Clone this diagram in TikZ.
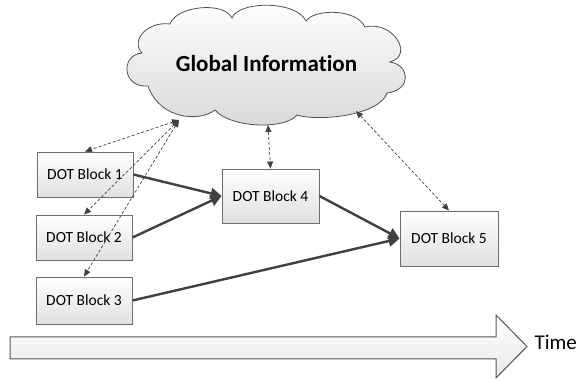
\documentclass[tikz,border=0pt]{standalone}
\usepackage{fontspec}
\setmainfont{Carlito}[RawFeature={-liga;-dlig;-clig}]
\usetikzlibrary{arrows.meta}
\definecolor{boxline}{HTML}{6E6E6E}
\definecolor{boxbot}{HTML}{E0E0E0}
\definecolor{darkline}{HTML}{404040}
\definecolor{cloudline}{HTML}{505050}
\definecolor{cloudbot}{HTML}{D8D8D8}
\definecolor{timebot}{HTML}{E8E8E8}
\definecolor{timeline}{HTML}{555555}
\tikzset{
 blockbox/.style={draw=boxline, line width=0.9pt, top color=white, bottom color=boxbot, inner sep=0pt, font=\fontsize{15.5}{18}\selectfont},
 flowarrow/.style={draw=darkline, line width=2.4pt, -{Triangle[length=11pt,width=11pt]}},
 infolink/.style={draw=darkline, line width=0.7pt, dash pattern=on 3pt off 2pt, {Triangle[length=7pt,width=6pt]}-{Triangle[length=7pt,width=6pt]}},
}
\begin{document}
\begin{tikzpicture}[x=1pt,y=-1pt]
\useasboundingbox (0,0) rectangle (579,379);
% cloud
\path[draw=cloudline, line width=0.8pt, top color=white, bottom color=cloudbot]
 (142,53) .. controls (130,40) and (148,21) .. (170,24)
 .. controls (176,6) and (224,1) .. (232,18)
 .. controls (238,1) and (296,0) .. (306,21)
 .. controls (314,9) and (356,8) .. (365,27)
 .. controls (392,20) and (415,55) .. (390,62)
 .. controls (410,65) and (412,90) .. (387,93)
 .. controls (380,115) and (320,122) .. (297,115)
 .. controls (285,130) and (230,128) .. (215,110)
 .. controls (200,122) and (160,120) .. (148,86)
 .. controls (122,88) and (120,55) .. (142,53) -- cycle;
\node[font=\fontsize{23}{27}\selectfont\bfseries, anchor=base] (gi) at (266.5,71.5) {Global Information};
% blocks
\node[blockbox, minimum width=96pt, minimum height=45pt] (b1) at (85,174.5) {DOT Block 1};
\node[blockbox, minimum width=96pt, minimum height=45pt] (b2) at (84,237.5) {DOT Block 2};
\node[blockbox, minimum width=96pt, minimum height=47pt] (b3) at (84,300.5) {DOT Block 3};
\node[blockbox, minimum width=97pt, minimum height=54pt] (b4) at (270.5,196) {DOT Block 4};
\node[blockbox, minimum width=98pt, minimum height=55pt] (b5) at (449,238.5) {DOT Block 5};
% time arrow
\path[draw=timeline, line width=1pt, top color=white, bottom color=timebot]
 (10,337) -- (496,337) -- (496,315) -- (527,346.5) -- (496,378) -- (496,359) -- (10,359) -- cycle;
\node[anchor=base west, font=\fontsize{21}{25}\selectfont] (time) at (531,350) {Time};
% flow
\draw[flowarrow] (b1.east) -- (b4.west);
\draw[flowarrow] (b2.east) -- (b4.west);
\draw[flowarrow] (b4.east) -- (b5.west);
\draw[flowarrow] (b3.east) -- (b5.west);
% information links
\coordinate (g1) at (179,120);
\coordinate (g4) at (268,125);
\coordinate (g5) at (356,111);
\draw[infolink] (g1) -- (b1.north);
\draw[infolink] (g1) -- (b2.north);
\draw[infolink] (g1) -- (b3.north);
\draw[infolink] (g4) -- (b4.north);
\draw[infolink] (g5) -- (b5.north);
\end{tikzpicture}
\end{document}
